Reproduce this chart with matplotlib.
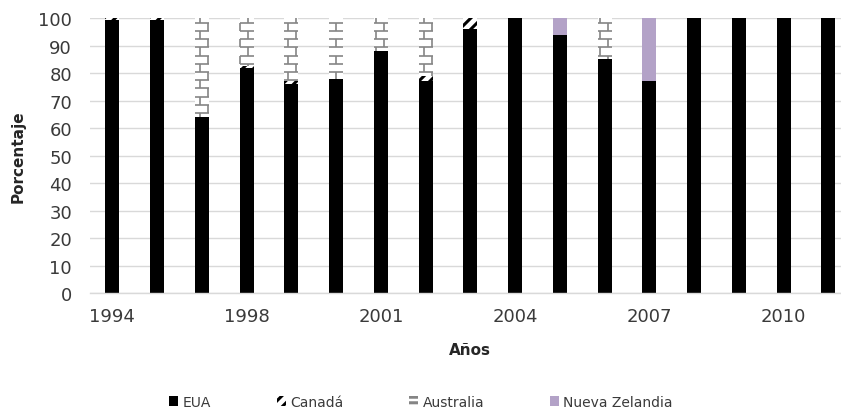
import numpy as np
import matplotlib
matplotlib.use("Agg")
import matplotlib.pyplot as plt
from matplotlib.patches import Patch
from matplotlib.collections import LineCollection

plt.rcParams["font.family"] = ["DejaVu Sans"]
plt.rcParams["hatch.linewidth"] = 2.2

# Share of imports by origin country, per year (%)
years = ["1994", "1995", "1997", "1998", "1999", "2000", "2001", "2002", "2003",
         "2004", "2005", "2006", "2007", "2008", "2009", "2010", "2011"]
eua = [99.3, 99.3, 64, 82, 76, 78, 88, 77, 96, 100, 94, 85, 77, 100, 100, 100, 100]
canada = [0.7, 0.7, 0, 0.5, 1, 0, 0, 2, 4, 0, 0, 0, 0, 0, 0, 0, 0]
australia = [0, 0, 36, 17.5, 23, 22, 12, 21, 0, 0, 0, 15, 0, 0, 0, 0, 0]
nueva_zelandia = [0, 0, 0, 0, 0, 0, 0, 0, 0, 0, 6, 0, 23, 0, 0, 0, 0]

series_names = ["EUA", "Canadá", "Australia", "Nueva Zelandia"]

W, H, DPI = 841, 410, 100
AX_W, AX_H = 760.75, 275.3
fig = plt.figure(figsize=(W / DPI, H / DPI), dpi=DPI)
ax = fig.add_axes([90 / W, 115.7 / H, AX_W / W, AX_H / H])

x = np.arange(len(years))
bw = 0.31
eua_a = np.array(eua)
can_a = np.array(canada)
aus_a = np.array(australia)
nz_a = np.array(nueva_zelandia)

ax.bar(x, eua_a, bw, color="black", zorder=2)
ax.bar(x, can_a, bw, bottom=eua_a, facecolor="white", edgecolor="black",
       linewidth=0, hatch="///", zorder=2)
aus_bars = ax.bar(x, aus_a, bw, bottom=eua_a + can_a, facecolor="white",
                  edgecolor="none", linewidth=0, zorder=2)
ax.bar(x, nz_a, bw, bottom=eua_a + can_a + aus_a, color="#b3a2c7", zorder=2)

ax.set_xlim(-0.5, len(years) - 0.5)
ax.set_ylim(0, 100)
ax.set_yticks(np.arange(0, 101, 10))
ax.set_xticks(x[::3])
ax.set_xticklabels(years[::3])

ax.set_axisbelow(True)
ax.yaxis.grid(True, color="#d9d9d9", linewidth=1.0)
for side in ["top", "right", "left"]:
    ax.spines[side].set_visible(False)
ax.spines["bottom"].set_color("#d9d9d9")
ax.spines["bottom"].set_linewidth(1.0)
ax.tick_params(axis="both", length=0, labelsize=13, labelcolor="#3a3a3a")
ax.tick_params(axis="y", pad=13)
ax.tick_params(axis="x", pad=10)

ax.set_ylabel("Porcentaje", fontsize=11, fontweight="bold", color="#262626")
ax.yaxis.label.set_va("center")
ax.yaxis.set_label_coords((18 - 90) / AX_W, 0.5)
ax.set_xlabel("Años", fontsize=11, fontweight="bold", color="#262626")
ax.xaxis.label.set_va("center")
ax.xaxis.set_label_coords(0.5, (59 - 115.7) / AX_H)

# Horizontal-brick fill for the Australia segments, segments cut to each bar
x_per_px = len(years) / AX_W
y_per_px = 100 / AX_H
row_h = 8.2 * y_per_px
brick_w = 16.0 * x_per_px
segs = []
for rect, val in zip(aus_bars.patches, aus_a):
    if val <= 0:
        continue
    x0, y0 = rect.get_x(), rect.get_y()
    x1, y1 = x0 + rect.get_width(), y0 + rect.get_height()
    for k in range(int(np.floor(y0 / row_h)), int(np.ceil(y1 / row_h)) + 1):
        yb = k * row_h
        if y0 <= yb <= y1:
            segs.append([(x0, yb), (x1, yb)])
        ya, yz = max(yb, y0), min(yb + row_h, y1)
        if yz <= ya:
            continue
        off = (k % 2) * brick_w / 2
        for j in range(int(np.floor((x0 - off) / brick_w)),
                       int(np.ceil((x1 - off) / brick_w)) + 1):
            xv = j * brick_w + off
            if x0 <= xv <= x1:
                segs.append([(xv, ya), (xv, yz)])
ax.add_collection(LineCollection(segs, colors="#858585", linewidths=1.2,
                                 zorder=3), autolim=False)

handles = [
    Patch(facecolor="black", edgecolor="black", linewidth=0),
    Patch(facecolor="white", edgecolor="black", linewidth=0, hatch="///"),
    Patch(facecolor="white", edgecolor="#858585", linewidth=0, hatch="---"),
    Patch(facecolor="#b3a2c7", edgecolor="#b3a2c7", linewidth=0),
]
fig.legend(handles, series_names, loc="center", ncol=4,
           bbox_to_anchor=(421 / W, 1 - 403 / H), frameon=False,
           fontsize=10, labelcolor="#3a3a3a", handlelength=0.65,
           handleheight=0.65, handletextpad=0.3, columnspacing=4.75)

fig.savefig("out.png", dpi=DPI)
